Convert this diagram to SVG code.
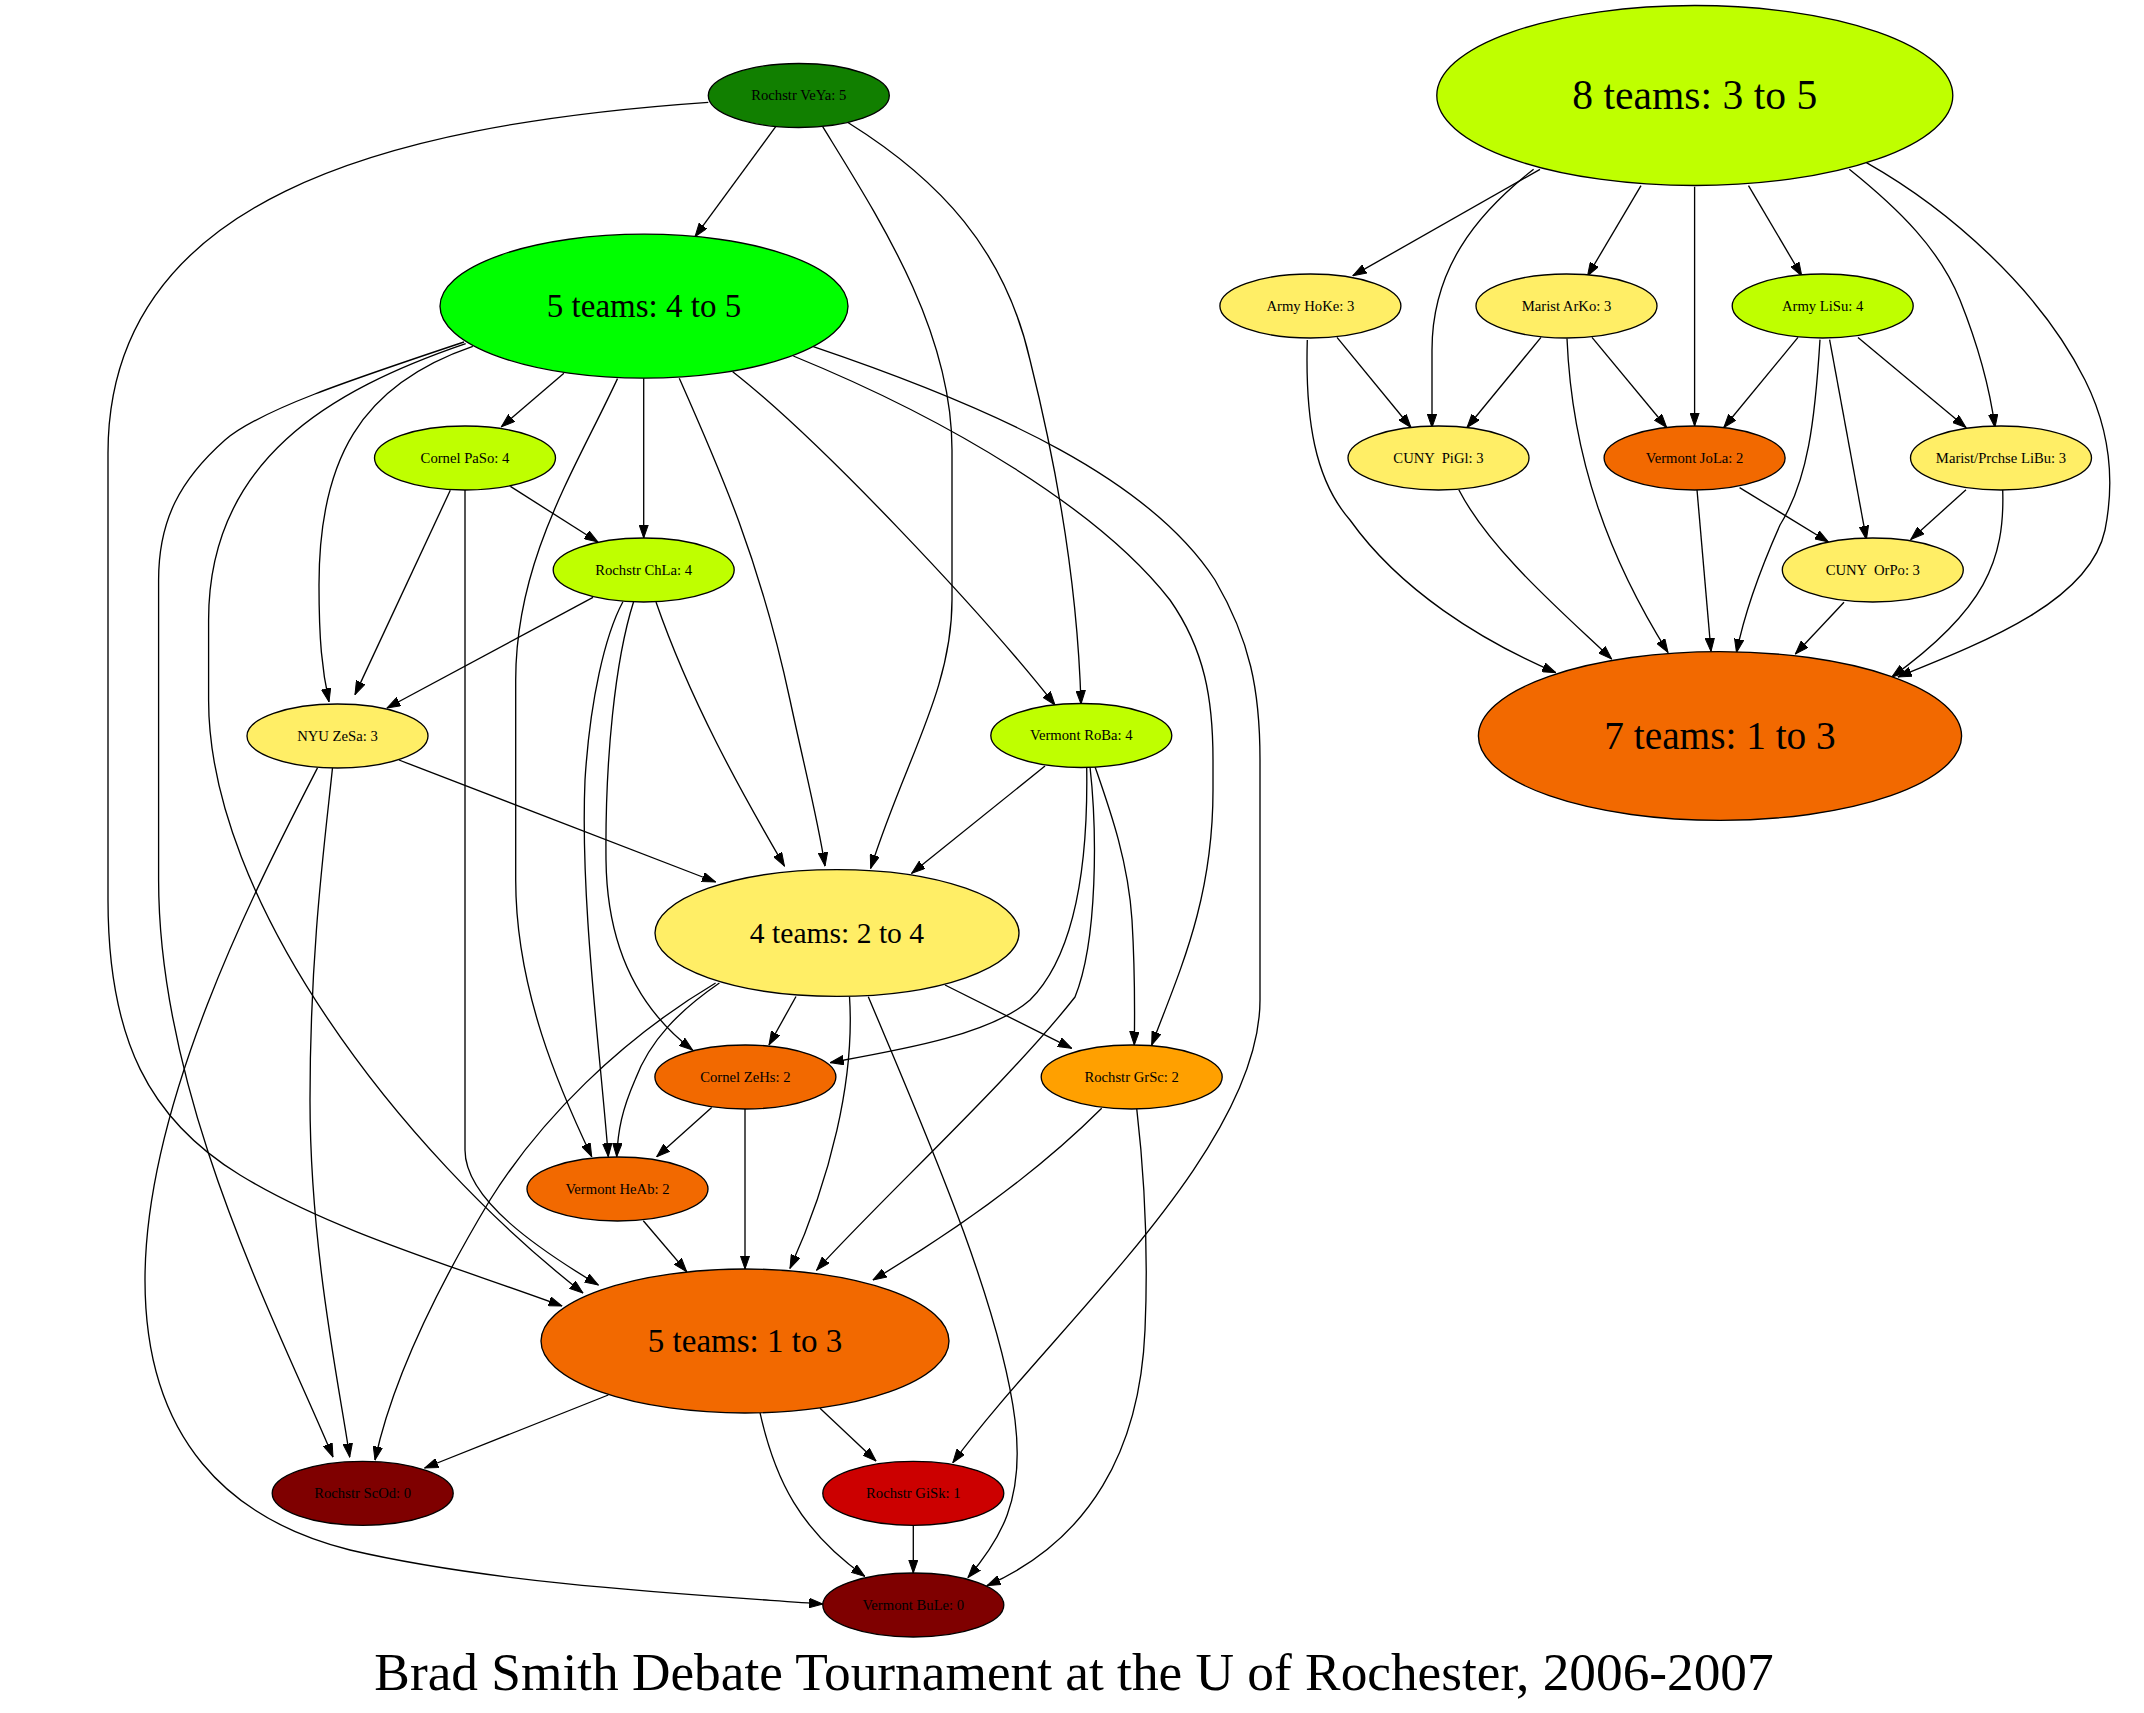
<svg xmlns="http://www.w3.org/2000/svg" width="2144" height="1713" viewBox="0 0 2144 1713">
<style>
ellipse{stroke:#000;stroke-width:1.33}
text{font-family:"Liberation Serif","Times New Roman",serif;text-anchor:middle;fill:#000}
.s{font-size:14.67px}
.dg{fill:#117f00}.g{fill:#00ff00}.yg{fill:#bfff00}.y{fill:#ffee66}.o{fill:#f26900}.a{fill:#ffa000}.r{fill:#cc0000}.m{fill:#7f0000}
#edges path{fill:none;stroke:#000;stroke-width:1.33;marker-end:url(#ah)}
</style>
<defs>
<marker id="ah" viewBox="0 0 14 10" refX="13.5" refY="5" markerWidth="14" markerHeight="10" markerUnits="userSpaceOnUse" orient="auto">
<path d="M0,0.3 L13.5,5 L0,9.7 z" fill="#000" stroke="#000" stroke-width="1"/>
</marker>
</defs>
<rect width="2144" height="1713" fill="#fff"/>
<g id="edges">
<path d="M775.7,126.7 L695,236.7"/>
<path d="M708.3,102.3 C380,125 108,200 108,453 L108,900 C108,1040 150,1120 240,1175 C330,1230 450,1265 562,1306"/>
<path d="M822.7,126.7 C880,220 952,330 952,450 L952,600 C952,690 905,760 870.7,868.3"/>
<path d="M848.3,122.7 C940,180 1005,250 1030,360 C1060,480 1078,600 1081,704"/>
<path d="M563.9,373.2 L501.4,426.8"/>
<path d="M643.7,378.3 L643.7,538"/>
<path d="M472.8,346.4 C360,385 319,460 319,585 C319,640 322,670 329,701.8"/>
<path d="M617.5,378.6 C575,470 515.7,560 515.7,680 L515.7,880 C515.7,990 560,1090 591.7,1156.7"/>
<path d="M679.3,378.3 C720,470 760,560 790,700 C805,770 818,820 825,866"/>
<path d="M732.7,371.7 C820,440 980,610 1055,705"/>
<path d="M793.3,356 C950,420 1100,510 1170,600 C1205,650 1213,700 1213,760 L1213,790 C1213,900 1180,970 1151.7,1045"/>
<path d="M813.3,346.7 C1000,410 1150,480 1215,580 C1250,640 1260,690 1260,760 L1260,1000 C1260,1150 1050,1330 952.8,1462.7"/>
<path d="M464,342 C350,380 260,410 225,440 C180,480 158.6,520 158.6,580 L158.6,880 C158.6,1100 280,1330 333,1457"/>
<path d="M465.7,343.6 C330,390 208.6,460 208.6,620 L208.6,700 C208.6,900 400,1150 583,1293"/>
<path d="M450.3,490.3 L355,694.6"/>
<path d="M510.4,486.4 L597.9,542"/>
<path d="M465,490 L465,1150 C465,1200 540,1250 598.3,1285"/>
<path d="M593,597.4 L387,708"/>
<path d="M656,602 C690,700 740,790 784.4,866"/>
<path d="M622.9,601.7 C605,635 590,700 585,780 C580,900 600,1050 608.3,1156.7"/>
<path d="M633.6,601.7 C615,660 605,760 606,860 C607,950 640,1010 692.6,1050"/>
<path d="M399,760 L715.6,882"/>
<path d="M332.5,767.9 C325,840 310,950 310,1100 C310,1250 340,1390 349.7,1457"/>
<path d="M317.5,767.9 C260,880 145,1100 145,1280 C145,1440 230,1520 350,1550 C500,1585 700,1595 822.7,1604"/>
<path d="M1045,766 L911.7,873.3"/>
<path d="M1086.7,766.7 C1088,850 1080,950 1030,1000 C990,1035 900,1050 830.3,1062.6"/>
<path d="M1090,766.7 C1097,830 1098,940 1075,997 C1010,1080 880,1200 816.7,1270"/>
<path d="M1095,766.7 C1110,810 1128,860 1132,920 C1135,970 1135,1000 1134.3,1045"/>
<path d="M796,996.5 L769,1045"/>
<path d="M945,985 L1071.7,1048.3"/>
<path d="M849.5,996.5 C855,1080 830,1180 790,1268.3"/>
<path d="M868.3,996.7 C920,1120 1000,1300 1015,1420 C1025,1500 1000,1540 968,1577.5"/>
<path d="M715.6,983 C620,1040 540,1120 490,1200 C430,1300 390,1390 375,1460"/>
<path d="M719.4,983 C680,1010 650,1040 635,1080 C622,1110 618,1130 616.7,1156.7"/>
<path d="M711.7,1107.4 L656.7,1156.7"/>
<path d="M745,1109 L745,1269"/>
<path d="M1101.7,1108.3 C1060,1150 990,1210 873,1280"/>
<path d="M1136.7,1108.3 C1145,1180 1148,1260 1145,1330 C1140,1450 1090,1540 987,1585.7"/>
<path d="M643.3,1220.7 L686.7,1271.7"/>
<path d="M608.3,1395 L424.7,1468"/>
<path d="M820,1408.3 L876,1461"/>
<path d="M760,1412.7 C775,1480 800,1530 864.8,1576.4"/>
<path d="M913.3,1525.3 L913.3,1573"/>
<path d="M1540,169.3 L1352.9,275.7"/>
<path d="M1533.6,169.3 C1475,215 1432,270 1432,350 L1432,427.5"/>
<path d="M1641,185.6 L1587.5,276"/>
<path d="M1694.6,186.7 L1694.6,426"/>
<path d="M1748.5,185.6 L1801.8,276"/>
<path d="M1849.3,169.3 C1900,210 1940,250 1960,300 C1980,350 1990,390 1995,427.5"/>
<path d="M1866.4,162.7 C1950,210 2040,290 2085,380 C2110,430 2115,480 2105,530 C2090,600 1990,640 1898,677"/>
<path d="M1337,337.4 L1411,427.5"/>
<path d="M1307.3,340 C1305,420 1315,480 1350,520 C1400,590 1480,640 1555.8,672.7"/>
<path d="M1541,337.4 L1467,427.5"/>
<path d="M1592,337.4 L1666.7,427.5"/>
<path d="M1567,338.5 C1572,460 1610,560 1668,652.5"/>
<path d="M1798,337.4 L1723.8,427.5"/>
<path d="M1858,337.4 L1966,427.5"/>
<path d="M1829.6,339.6 L1866.4,539.4"/>
<path d="M1820,339.6 C1815,420 1808,480 1780,525 C1760,570 1745,610 1736.5,652.5"/>
<path d="M1458.8,489.8 C1490,550 1560,610 1611.6,659"/>
<path d="M1739.6,487.6 L1828.4,542"/>
<path d="M1697,489.8 L1711,651.4"/>
<path d="M1966,489.8 L1910.8,539.4"/>
<path d="M2002.7,489.8 C2005,560 1985,610 1891.8,677"/>
<path d="M1844,602.2 L1795.4,654"/>
</g>
<g id="n-veya"><ellipse class="dg" cx="798.8" cy="95.5" rx="90.5" ry="32"/><text class="s" x="798.8" y="100.2">Rochstr VeYa: 5</text></g>
<g id="n-t45"><ellipse class="g" cx="644" cy="306.2" rx="204" ry="72"/><text x="644" y="316.8" font-size="33">5 teams: 4 to 5</text></g>
<g id="n-paso"><ellipse class="yg" cx="465" cy="458" rx="90.5" ry="32"/><text class="s" x="465" y="462.7">Cornel PaSo: 4</text></g>
<g id="n-chla"><ellipse class="yg" cx="643.7" cy="570" rx="90.5" ry="32"/><text class="s" x="643.7" y="574.7">Rochstr ChLa: 4</text></g>
<g id="n-zesa"><ellipse class="y" cx="337.5" cy="736" rx="90.5" ry="32"/><text class="s" x="337.5" y="740.7">NYU ZeSa: 3</text></g>
<g id="n-roba"><ellipse class="yg" cx="1081.3" cy="735.5" rx="90.5" ry="32"/><text class="s" x="1081.3" y="740.2">Vermont RoBa: 4</text></g>
<g id="n-t24"><ellipse class="y" cx="837" cy="933" rx="182" ry="63.4"/><text x="837" y="942.5" font-size="29.6">4 teams: 2 to 4</text></g>
<g id="n-zehs"><ellipse class="o" cx="745.4" cy="1077" rx="90.5" ry="32"/><text class="s" x="745.4" y="1081.7">Cornel ZeHs: 2</text></g>
<g id="n-grsc"><ellipse class="a" cx="1131.7" cy="1077" rx="90.5" ry="32"/><text class="s" x="1131.7" y="1081.7">Rochstr GrSc: 2</text></g>
<g id="n-heab"><ellipse class="o" cx="617.5" cy="1189" rx="90.5" ry="32"/><text class="s" x="617.5" y="1193.7">Vermont HeAb: 2</text></g>
<g id="n-t13"><ellipse class="o" cx="745" cy="1341" rx="204" ry="72"/><text x="745" y="1351.6" font-size="33">5 teams: 1 to 3</text></g>
<g id="n-scod"><ellipse class="m" cx="362.7" cy="1493.3" rx="90.5" ry="32"/><text class="s" x="362.7" y="1498">Rochstr ScOd: 0</text></g>
<g id="n-gisk"><ellipse class="r" cx="913.3" cy="1493.3" rx="90.5" ry="32"/><text class="s" x="913.3" y="1498">Rochstr GiSk: 1</text></g>
<g id="n-bule"><ellipse class="m" cx="913.3" cy="1605" rx="90.5" ry="32"/><text class="s" x="913.3" y="1609.7">Vermont BuLe: 0</text></g>
<g id="n-t35"><ellipse class="yg" cx="1694.8" cy="95.5" rx="258" ry="90"/><text x="1694.8" y="109.2" font-size="41.6">8 teams: 3 to 5</text></g>
<g id="n-hoke"><ellipse class="y" cx="1310.4" cy="306" rx="90.5" ry="32"/><text class="s" x="1310.4" y="310.7">Army HoKe: 3</text></g>
<g id="n-arko"><ellipse class="y" cx="1566.5" cy="306" rx="90.5" ry="32"/><text class="s" x="1566.5" y="310.7">Marist ArKo: 3</text></g>
<g id="n-lisu"><ellipse class="yg" cx="1822.7" cy="306" rx="90.5" ry="32"/><text class="s" x="1822.7" y="310.7">Army LiSu: 4</text></g>
<g id="n-pigl"><ellipse class="y" cx="1438.5" cy="458" rx="90.5" ry="32"/><text class="s" x="1438.5" y="462.7" xml:space="preserve">CUNY  PiGl: 3</text></g>
<g id="n-jola"><ellipse class="o" cx="1694.6" cy="458" rx="90.5" ry="32"/><text class="s" x="1694.6" y="462.7">Vermont JoLa: 2</text></g>
<g id="n-libu"><ellipse class="y" cx="2001" cy="458" rx="90.5" ry="32"/><text class="s" x="2001" y="462.7">Marist/Prchse LiBu: 3</text></g>
<g id="n-orpo"><ellipse class="y" cx="1872.8" cy="570" rx="90.5" ry="32"/><text class="s" x="1872.8" y="574.7" xml:space="preserve">CUNY  OrPo: 3</text></g>
<g id="n-t13r"><ellipse class="o" cx="1720" cy="736" rx="241.6" ry="84.4"/><text x="1720" y="748.8" font-size="39.3">7 teams: 1 to 3</text></g>
<text x="1074" y="1690" font-size="53.3">Brad Smith Debate Tournament at the U of Rochester, 2006-2007</text>
</svg>
